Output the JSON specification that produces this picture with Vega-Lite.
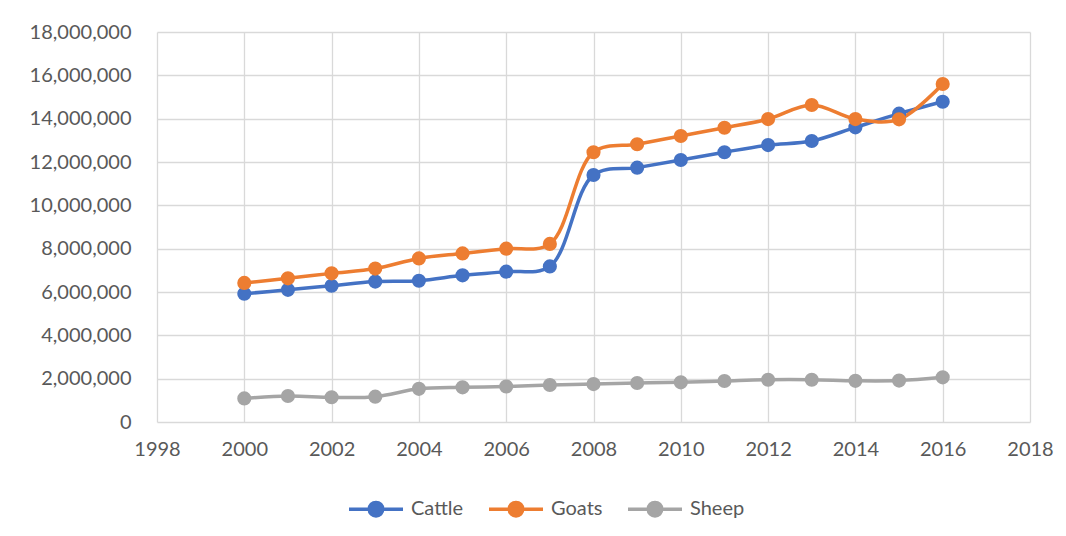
{
  "$schema": "https://vega.github.io/schema/vega-lite/v6.json",
  "width": 873,
  "height": 390,
  "autosize": {"type": "none"},
  "padding": {"left": 157, "top": 32, "right": 36, "bottom": 114},
  "background": "white",
  "config": {
    "view": {"stroke": null},
    "font": "Lato",
    "axis": {
      "labelFont": "Lato",
      "labelFontSize": 20,
      "labelColor": "#595959",
      "gridColor": "#d9d9d9",
      "gridWidth": 1.3,
      "ticks": false,
      "domain": false,
      "title": null
    }
  },
  "data": {
    "values": [
      {"year": 2000, "series": "Cattle", "value": 5920000},
      {"year": 2001, "series": "Cattle", "value": 6100000},
      {"year": 2002, "series": "Cattle", "value": 6290000},
      {"year": 2003, "series": "Cattle", "value": 6480000},
      {"year": 2004, "series": "Cattle", "value": 6520000},
      {"year": 2005, "series": "Cattle", "value": 6770000},
      {"year": 2006, "series": "Cattle", "value": 6940000},
      {"year": 2007, "series": "Cattle", "value": 7180000},
      {"year": 2008, "series": "Cattle", "value": 11400000},
      {"year": 2009, "series": "Cattle", "value": 11740000},
      {"year": 2010, "series": "Cattle", "value": 12090000},
      {"year": 2011, "series": "Cattle", "value": 12450000},
      {"year": 2012, "series": "Cattle", "value": 12780000},
      {"year": 2013, "series": "Cattle", "value": 12970000},
      {"year": 2014, "series": "Cattle", "value": 13600000},
      {"year": 2015, "series": "Cattle", "value": 14230000},
      {"year": 2016, "series": "Cattle", "value": 14780000},
      {"year": 2000, "series": "Goats", "value": 6420000},
      {"year": 2001, "series": "Goats", "value": 6630000},
      {"year": 2002, "series": "Goats", "value": 6860000},
      {"year": 2003, "series": "Goats", "value": 7080000},
      {"year": 2004, "series": "Goats", "value": 7550000},
      {"year": 2005, "series": "Goats", "value": 7780000},
      {"year": 2006, "series": "Goats", "value": 8000000},
      {"year": 2007, "series": "Goats", "value": 8220000},
      {"year": 2008, "series": "Goats", "value": 12450000},
      {"year": 2009, "series": "Goats", "value": 12820000},
      {"year": 2010, "series": "Goats", "value": 13200000},
      {"year": 2011, "series": "Goats", "value": 13580000},
      {"year": 2012, "series": "Goats", "value": 13980000},
      {"year": 2013, "series": "Goats", "value": 14630000},
      {"year": 2014, "series": "Goats", "value": 13980000},
      {"year": 2015, "series": "Goats", "value": 13970000},
      {"year": 2016, "series": "Goats", "value": 15600000},
      {"year": 2000, "series": "Sheep", "value": 1090000},
      {"year": 2001, "series": "Sheep", "value": 1200000},
      {"year": 2002, "series": "Sheep", "value": 1140000},
      {"year": 2003, "series": "Sheep", "value": 1170000},
      {"year": 2004, "series": "Sheep", "value": 1530000},
      {"year": 2005, "series": "Sheep", "value": 1600000},
      {"year": 2006, "series": "Sheep", "value": 1640000},
      {"year": 2007, "series": "Sheep", "value": 1710000},
      {"year": 2008, "series": "Sheep", "value": 1750000},
      {"year": 2009, "series": "Sheep", "value": 1800000},
      {"year": 2010, "series": "Sheep", "value": 1830000},
      {"year": 2011, "series": "Sheep", "value": 1890000},
      {"year": 2012, "series": "Sheep", "value": 1950000},
      {"year": 2013, "series": "Sheep", "value": 1950000},
      {"year": 2014, "series": "Sheep", "value": 1900000},
      {"year": 2015, "series": "Sheep", "value": 1910000},
      {"year": 2016, "series": "Sheep", "value": 2060000}
    ]
  },
  "encoding": {
    "x": {
      "field": "year",
      "type": "quantitative",
      "scale": {"domain": [1998, 2018], "nice": false, "zero": false},
      "axis": {
        "values": [1998, 2000, 2002, 2004, 2006, 2008, 2010, 2012, 2014, 2016, 2018],
        "format": "d",
        "labelPadding": 17,
        "labelFlush": false,
        "labelOverlap": false
      }
    },
    "y": {
      "field": "value",
      "type": "quantitative",
      "scale": {"domain": [0, 18000000], "nice": false},
      "axis": {
        "values": [0, 2000000, 4000000, 6000000, 8000000, 10000000, 12000000, 14000000, 16000000, 18000000],
        "format": ",d",
        "labelPadding": 26,
        "labelOverlap": false
      }
    },
    "color": {
      "field": "series",
      "type": "nominal",
      "scale": {"domain": ["Cattle", "Goats", "Sheep"], "range": ["#4472C4", "#ED7D31", "#A5A5A5"]},
      "legend": {
        "title": null,
        "orient": "none",
        "direction": "horizontal",
        "legendX": 190,
        "legendY": 448,
        "padding": 0,
        "symbolType": "M -1 0 L 1 0 M -0.25 0 A 0.25 0.25 0 1 0 0.25 0 A 0.25 0.25 0 1 0 -0.25 0 Z",
        "symbolSize": 2916,
        "symbolStrokeWidth": 3.5,
        "labelFont": "Lato",
        "labelFontSize": 20,
        "labelColor": "#595959",
        "labelOffset": 6,
        "columnPadding": 18,
        "encode": {
          "symbols": {
            "update": {
              "fill": {"scale": "color", "field": "value"},
              "stroke": {"scale": "color", "field": "value"},
              "opacity": {"value": 1},
              "fillOpacity": {"value": 1}
            }
          }
        }
      }
    }
  },
  "layer": [
    {"mark": {"type": "line", "interpolate": "catmull-rom", "strokeWidth": 3.5}},
    {"mark": {"type": "point", "filled": true, "opacity": 1, "size": 200}}
  ]
}
